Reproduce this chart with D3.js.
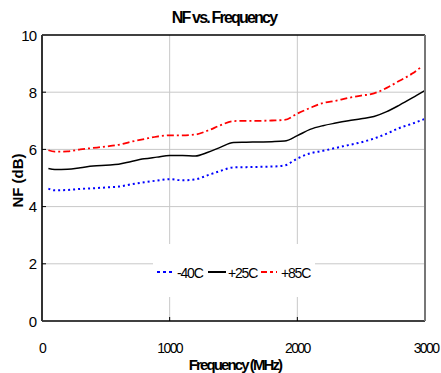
<!DOCTYPE html>
<html><head><meta charset="utf-8">
<script src="https://cdn.jsdelivr.net/npm/d3@7"></script>
<style>body{margin:0;background:#fff}svg{display:block}text{font-family:"Liberation Sans",Arial,sans-serif;fill:#000}</style>
</head><body><svg id="c" width="441" height="373"></svg>
<script>
const freq = [50,100,200,300,400,500,600,700,800,900,1000,1100,1200,1300,1400,1500,1600,1700,1800,1900,2000,2100,2200,2300,2400,2500,2600,2700,2800,2900,3000];
const nfM40 = [4.63,4.57,4.58,4.62,4.64,4.67,4.70,4.78,4.85,4.91,4.96,4.92,4.95,5.10,5.25,5.37,5.38,5.39,5.40,5.44,5.68,5.86,5.95,6.05,6.15,6.25,6.38,6.55,6.75,6.90,7.07];
const nfP25 = [5.33,5.30,5.31,5.36,5.42,5.45,5.48,5.58,5.67,5.73,5.79,5.79,5.77,5.90,6.08,6.24,6.25,6.26,6.27,6.29,6.48,6.70,6.83,6.92,7.00,7.07,7.15,7.32,7.55,7.80,8.06];
const freqHot = [50,100,200,300,400,500,600,700,800,900,1000,1100,1200,1300,1400,1500,1600,1700,1800,1900,2000,2100,2200,2300,2400,2500,2600,2700,2800,2900,2975];
const nfP85 = [5.97,5.92,5.93,6.00,6.05,6.10,6.16,6.27,6.36,6.45,6.49,6.49,6.52,6.66,6.85,6.99,7.00,7.00,7.01,7.03,7.25,7.45,7.62,7.70,7.80,7.88,7.96,8.15,8.40,8.65,8.90];
const xTicks = [0,1000,2000,3000];
const yTicks = [0,2,4,6,8,10];
const seriesNames = ["-40C","+25C","+85C"];

const svg = d3.select("#c");
const L=42,R=425,T=35,B=321;
const x = d3.scaleLinear().domain([0,3000]).range([L,R]);
const y = d3.scaleLinear().domain([0,10]).range([B,T]);

// grid
svg.append("g").selectAll("line").data(yTicks.filter(d=>d>0&&d<10)).join("line")
  .attr("x1",L).attr("x2",R).attr("y1",d=>y(d)).attr("y2",d=>y(d))
  .attr("stroke","#c8c8c8").attr("stroke-width",1);
svg.append("g").selectAll("line").data(xTicks.filter(d=>d>0&&d<3000)).join("line")
  .attr("x1",d=>x(d)).attr("x2",d=>x(d)).attr("y1",T).attr("y2",B)
  .attr("stroke","#c8c8c8").attr("stroke-width",1);

// series
const series = [
  {name:seriesNames[0], xs:freq, ys:nfM40, color:"#0000ff", dash:"2,3", w:2},
  {name:seriesNames[1], xs:freq, ys:nfP25, color:"#000000", dash:null, w:1.5},
  {name:seriesNames[2], xs:freqHot, ys:nfP85, color:"#ff0000", dash:"7,3,2,3", w:1.8}
];
const line = d3.line().x(d=>x(d[0])).y(d=>y(d[1])).curve(d3.curveMonotoneX);
series.forEach(s=>{
  svg.append("path").datum(s.xs.map((f,i)=>[f,s.ys[i]]))
    .attr("d",line).attr("fill","none").attr("stroke",s.color)
    .attr("stroke-width",s.w).attr("stroke-dasharray",s.dash);
});

// legend box
const lg = svg.append("g");
lg.append("rect").attr("x",153).attr("y",244).attr("width",162).attr("height",53).attr("fill","#fff");
const items = [{x0:157,x1:173,tx:177},{x0:208,x1:226,tx:228},{x0:261,x1:277,tx:281}];
series.forEach((s,i)=>{
  lg.append("line").attr("x1",items[i].x0).attr("x2",items[i].x1).attr("y1",272).attr("y2",272)
    .attr("stroke",s.color).attr("stroke-width",2).attr("stroke-dasharray",i===0?"3,3":(i===2?"6,3,3,3":null));
  lg.append("text").attr("x",items[i].tx).attr("y",277.5).attr("font-size",14).attr("letter-spacing",-1.2)
    .text(s.name);
});

// frame
svg.append("line").attr("x1",L).attr("x2",R).attr("y1",T).attr("y2",T).attr("stroke","#000").attr("stroke-width",1.5);
svg.append("line").attr("x1",L).attr("x2",R).attr("y1",B).attr("y2",B).attr("stroke","#000").attr("stroke-width",1.5);
svg.append("line").attr("x1",L).attr("x2",L).attr("y1",T).attr("y2",B).attr("stroke","#333").attr("stroke-width",2);
svg.append("line").attr("x1",R).attr("x2",R).attr("y1",T).attr("y2",B).attr("stroke","#777").attr("stroke-width",2);

// inner ticks
svg.append("g").selectAll("line").data(yTicks.filter(d=>d>0&&d<10)).join("line")
  .attr("x1",L).attr("x2",L+4).attr("y1",d=>y(d)).attr("y2",d=>y(d)).attr("stroke","#000");
svg.append("g").selectAll("line").data(xTicks.filter(d=>d>0&&d<3000)).join("line")
  .attr("x1",d=>x(d)).attr("x2",d=>x(d)).attr("y1",B).attr("y2",B-4).attr("stroke","#000");

// tick labels
svg.append("g").selectAll("text").data(yTicks).join("text")
  .attr("x",36).attr("y",d=>y(d)+5.5).attr("text-anchor","end").attr("font-size",15).attr("letter-spacing",-1)
  .text(d=>d);
svg.append("g").selectAll("text").data(xTicks).join("text")
  .attr("x",d=>x(d)+(d===3000?1:0)).attr("y",353).attr("text-anchor","middle").attr("font-size",14).attr("letter-spacing",-1.6)
  .text(d=>d);

// titles
svg.append("text").attr("x",224).attr("y",23).attr("text-anchor","middle").attr("font-size",16)
  .attr("font-weight","bold").attr("letter-spacing",-1.8).text("NF vs. Frequency");
svg.append("text").attr("x",235).attr("y",369.5).attr("text-anchor","middle").attr("font-size",15)
  .attr("font-weight","bold").attr("letter-spacing",-1.9).text("Frequency (MHz)");
svg.append("text").attr("transform","translate(23,180.5) rotate(-90)").attr("text-anchor","middle")
  .attr("font-size",15).attr("font-weight","bold").text("NF (dB)");
</script></body></html>
